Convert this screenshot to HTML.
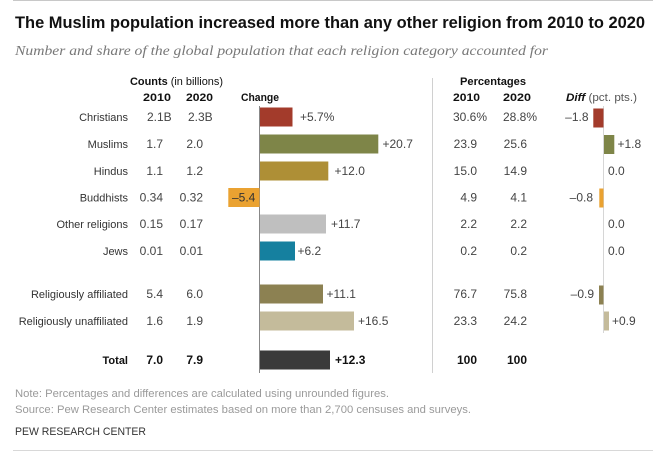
<!DOCTYPE html>
<html>
<head>
<meta charset="utf-8">
<style>
  html,body{margin:0;padding:0;background:#fff;}
  svg{display:block;}
  text{font-family:"Liberation Sans", Arial, sans-serif;}
  .lbl{font-size:11px;fill:#333;}
  .num{font-size:12px;fill:#444;}
  .hdr{font-size:11px;fill:#111;font-weight:bold;}
  .foot{font-size:11px;fill:#9a9a9a;}
</style>
</head>
<body>
<svg width="663" height="452" viewBox="0 0 663 452" xmlns="http://www.w3.org/2000/svg">
  <!-- top/bottom rules -->
  <line x1="13" y1="0.5" x2="653" y2="0.5" stroke="#c8c8c8" stroke-width="1"/>
  <line x1="13" y1="450.5" x2="653" y2="450.5" stroke="#d8d8d8" stroke-width="1"/>

  <!-- Title -->
  <text x="15" y="28" font-size="17" font-weight="bold" fill="#111" textLength="630" lengthAdjust="spacingAndGlyphs">The Muslim population increased more than any other religion from 2010 to 2020</text>
  <text x="15" y="55" font-size="14" font-style="italic" fill="#777" style="font-family:'Liberation Serif',Georgia,serif" textLength="533" lengthAdjust="spacingAndGlyphs">Number and share of the global population that each religion category accounted for</text>

  <!-- Headers -->
  <text x="130" y="85" class="hdr" style="font-weight:normal" textLength="93" lengthAdjust="spacingAndGlyphs"><tspan font-weight="bold">Counts</tspan> (in billions)</text>
  <text x="143" y="101" class="hdr" font-size="12" textLength="28" lengthAdjust="spacingAndGlyphs">2010</text>
  <text x="186" y="101" class="hdr" font-size="12" textLength="27" lengthAdjust="spacingAndGlyphs">2020</text>
  <text x="241" y="101" class="hdr" font-size="12" textLength="38" lengthAdjust="spacingAndGlyphs">Change</text>

  <text x="460" y="85" class="hdr" textLength="66" lengthAdjust="spacingAndGlyphs">Percentages</text>
  <text x="453" y="101" class="hdr" font-size="12" textLength="27" lengthAdjust="spacingAndGlyphs">2010</text>
  <text x="503" y="101" class="hdr" font-size="12" textLength="28" lengthAdjust="spacingAndGlyphs">2020</text>
  <text x="566" y="101" class="hdr" style="font-weight:normal" textLength="71" lengthAdjust="spacingAndGlyphs"><tspan font-weight="bold" font-style="italic">Diff</tspan><tspan fill="#555"> (pct. pts.)</tspan></text>

  <!-- separator & axes -->
  <line x1="432.5" y1="78" x2="432.5" y2="373" stroke="#d0d0d0" stroke-width="1"/>
  <line x1="259.5" y1="106" x2="259.5" y2="373" stroke="#888" stroke-width="1"/>
  <line x1="603.5" y1="106" x2="603.5" y2="333" stroke="#d6d6d6" stroke-width="1"/>

  <!-- Row labels -->
  <g class="lbl" text-anchor="end">
    <text x="128" y="121">Christians</text>
    <text x="128" y="148">Muslims</text>
    <text x="128" y="175">Hindus</text>
    <text x="128" y="201.5">Buddhists</text>
    <text x="128" y="228">Other religions</text>
    <text x="128" y="255">Jews</text>
    <text x="128" y="298">Religiously affiliated</text>
    <text x="128" y="325">Religiously unaffiliated</text>
    <text x="128" y="364" font-weight="bold" fill="#111">Total</text>
  </g>

  <!-- Counts -->
  <g class="num">
    <text x="147" y="121">2.1B</text>
    <text x="188" y="121">2.3B</text>
  </g>
  <g class="num" text-anchor="end">
    <text x="163" y="148">1.7</text><text x="203" y="148">2.0</text>
    <text x="163" y="175">1.1</text><text x="203" y="175">1.2</text>
    <text x="163" y="201.5">0.34</text><text x="203" y="201.5">0.32</text>
    <text x="163" y="228">0.15</text><text x="203" y="228">0.17</text>
    <text x="163" y="255">0.01</text><text x="203" y="255">0.01</text>
    <text x="163" y="298">5.4</text><text x="203" y="298">6.0</text>
    <text x="163" y="325">1.6</text><text x="203" y="325">1.9</text>
    <text x="163" y="364" font-weight="bold" fill="#111">7.0</text><text x="203" y="364" font-weight="bold" fill="#111">7.9</text>
  </g>

  <!-- Change bars -->
  <rect x="260" y="107.5" width="32.5" height="19" fill="#a33b2b"/>
  <rect x="260" y="134.5" width="118.3" height="19" fill="#7e8548"/>
  <rect x="260" y="161.5" width="68.3" height="19" fill="#ae8f36"/>
  <rect x="228.3" y="188" width="31.2" height="19" fill="#eaa231"/>
  <rect x="260" y="214.5" width="66" height="19" fill="#bfbfbf"/>
  <rect x="260" y="241.5" width="35" height="19" fill="#15809f"/>
  <rect x="260" y="284.5" width="63" height="19" fill="#8c8152"/>
  <rect x="260" y="311.5" width="94" height="19" fill="#c4bb9b"/>
  <rect x="260" y="350.5" width="70" height="19" fill="#3a3a3a"/>

  <!-- Change labels -->
  <g class="num">
    <text x="300" y="121">+5.7%</text>
    <text x="382.5" y="148">+20.7</text>
    <text x="334.5" y="175">+12.0</text>
    <text x="232" y="201.5" fill="#333">–5.4</text>
    <text x="331" y="228">+11.7</text>
    <text x="297.5" y="255">+6.2</text>
    <text x="326.5" y="298">+11.1</text>
    <text x="358" y="325">+16.5</text>
    <text x="335" y="364" font-weight="bold" fill="#111">+12.3</text>
  </g>

  <!-- Percentages -->
  <g class="num">
    <text x="453" y="121">30.6%</text>
    <text x="503" y="121">28.8%</text>
  </g>
  <g class="num" text-anchor="end">
    <text x="477" y="148">23.9</text><text x="527" y="148">25.6</text>
    <text x="477" y="175">15.0</text><text x="527" y="175">14.9</text>
    <text x="477" y="201.5">4.9</text><text x="527" y="201.5">4.1</text>
    <text x="477" y="228">2.2</text><text x="527" y="228">2.2</text>
    <text x="477" y="255">0.2</text><text x="527" y="255">0.2</text>
    <text x="477" y="298">76.7</text><text x="527" y="298">75.8</text>
    <text x="477" y="325">23.3</text><text x="527" y="325">24.2</text>
    <text x="477" y="364" font-weight="bold" fill="#111">100</text><text x="527" y="364" font-weight="bold" fill="#111">100</text>
  </g>

  <!-- Diff bars -->
  <rect x="593.3" y="108.5" width="10.2" height="19" fill="#a33b2b"/>
  <rect x="604" y="135" width="10.3" height="19" fill="#7e8548"/>
  <rect x="599.3" y="188.5" width="4.2" height="19" fill="#eaa231"/>
  <rect x="599" y="285.5" width="4.5" height="19" fill="#8c8152"/>
  <rect x="604" y="311.5" width="5" height="19" fill="#c4bb9b"/>

  <!-- Diff labels -->
  <g class="num">
    <text x="588.5" y="121" text-anchor="end">–1.8</text>
    <text x="617.5" y="148">+1.8</text>
    <text x="608" y="175">0.0</text>
    <text x="593" y="201.5" text-anchor="end">–0.8</text>
    <text x="608" y="228">0.0</text>
    <text x="608" y="255">0.0</text>
    <text x="594" y="298" text-anchor="end">–0.9</text>
    <text x="612" y="325">+0.9</text>
  </g>

  <!-- Footer -->
  <text x="15" y="397" class="foot" textLength="374" lengthAdjust="spacingAndGlyphs">Note: Percentages and differences are calculated using unrounded figures.</text>
  <text x="15" y="413" class="foot" textLength="456" lengthAdjust="spacingAndGlyphs">Source: Pew Research Center estimates based on more than 2,700 censuses and surveys.</text>
  <text x="15" y="435" font-size="11" fill="#333" textLength="131" lengthAdjust="spacingAndGlyphs">PEW RESEARCH CENTER</text>
</svg>
</body>
</html>
